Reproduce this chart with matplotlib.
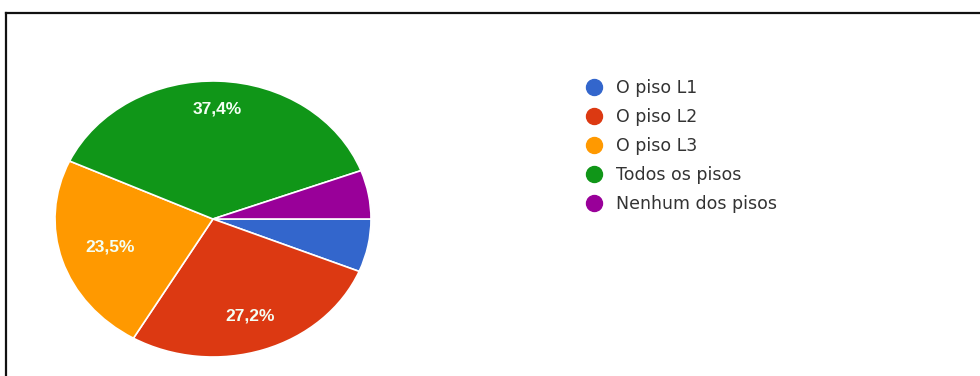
import matplotlib
matplotlib.use("Agg")
import matplotlib.pyplot as plt
from matplotlib.lines import Line2D
import numpy as np

# ---- data ----
categories = ["O piso L1", "O piso L2", "O piso L3", "Todos os pisos", "Nenhum dos pisos"]
values = [6.2, 27.2, 23.5, 37.4, 5.7]
colors = ["#3366CC", "#DC3912", "#FF9900", "#109618", "#990099"]
label_dist = [0.7, 0.74, 0.68, 0.80, 0.7]   # style: radial position of % labels

W, H = 980, 376
fig = plt.figure(figsize=(W / 100, H / 100), dpi=100)
fig.patch.set_facecolor("white")
plt.rcParams["font.family"] = ["Liberation Sans", "DejaVu Sans"]

# pie axes (elliptical, as in reference)
cx, cy = 213, 219          # center px (top-origin)
rx, ry = 158, 138          # radii px
ax = fig.add_axes([(cx - rx) / W, (H - cy - ry) / H, 2 * rx / W, 2 * ry / H])
wedges, _ = ax.pie(values, colors=colors, startangle=0, counterclock=False,
                   radius=1.0, wedgeprops=dict(edgecolor="white", linewidth=1.2))
ax.set_aspect("auto")
ax.set_xlim(-1, 1)
ax.set_ylim(-1, 1)
ax.axis("off")

for w, v, d in zip(wedges, values, label_dist):
    if v < 10:
        continue
    mid = np.deg2rad((w.theta1 + w.theta2) / 2)
    txt = f"{v:.1f}%".replace(".", ",")
    ax.text(d * np.cos(mid), d * np.sin(mid), txt, ha="center", va="center",
            color="#F4FFF4", fontsize=12.5, fontweight="bold",
            family=["Liberation Sans", "DejaVu Sans"])

# legend
handles = [Line2D([], [], linestyle="none", marker="o", markersize=11.5,
                  markerfacecolor=c, markeredgecolor=c) for c in colors]
leg = fig.legend(handles, categories, loc="upper left",
                 bbox_to_anchor=(585 / W, 1 - 79 / H), frameon=False,
                 prop=dict(family=["DejaVu Sans"], size=12.5),
                 handlelength=1.0, handletextpad=0.78,
                 labelspacing=0.64, borderpad=0, borderaxespad=0)
for t in leg.get_texts():
    t.set_color("#333333")

# frame lines (top and left)
fig.add_artist(Line2D([6 / W, 1], [1 - 13 / H, 1 - 13 / H], transform=fig.transFigure,
                      color="#111111", linewidth=1.6))
fig.add_artist(Line2D([6 / W, 6 / W], [0, 1 - 13 / H], transform=fig.transFigure,
                      color="#111111", linewidth=1.6))

fig.savefig("out.png", dpi=100, facecolor="white")
